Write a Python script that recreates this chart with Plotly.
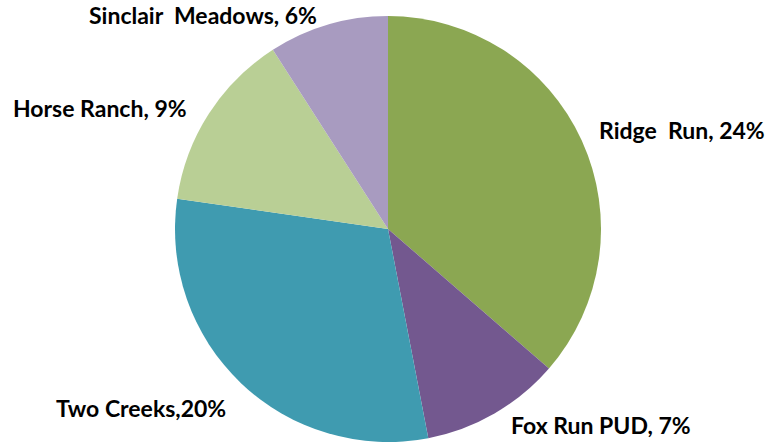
import plotly.graph_objects as go

categories = ["Ridge Run", "Fox Run PUD", "Two Creeks", "Horse Ranch", "Sinclair Meadows"]
values = [24, 7, 20, 9, 6]
label_texts = ["Ridge  Run, 24%", "Fox Run PUD, 7%", "Two Creeks,20%", "Horse Ranch, 9%", "Sinclair  Meadows, 6%"]
colors = ["#8BA752", "#73588F", "#3F9BB0", "#B9CF95", "#A89BC0"]

W, H = 778, 442
cx, r = 388, 214
top = 16

fig = go.Figure(go.Pie(
    labels=categories, values=values, sort=False, direction="clockwise", rotation=0,
    marker=dict(colors=colors, line=dict(width=0)),
    textinfo="none", hoverinfo="label+percent", showlegend=False,
    domain=dict(x=[(cx - r) / W, (cx + r) / W], y=[0, (H - top) / H]),
))

label_pos = [(682, 130), (601, 425), (141, 408), (100, 108), (203, 15)]
for t, (x, y) in zip(label_texts, label_pos):
    fig.add_annotation(x=x / W, y=1 - y / H, xref="paper", yref="paper", text="<b>" + t + "</b>",
                       showarrow=False, xanchor="center", yanchor="middle",
                       font=dict(family="Lato", size=23, color="#000000"))

fig.update_layout(width=W, height=H, margin=dict(l=0, r=0, t=0, b=0),
                  paper_bgcolor="white", plot_bgcolor="white")
fig.write_html("out.html", config={"displayModeBar": False},
               post_script="document.body.style.margin='0px';document.body.style.overflow='hidden';")
